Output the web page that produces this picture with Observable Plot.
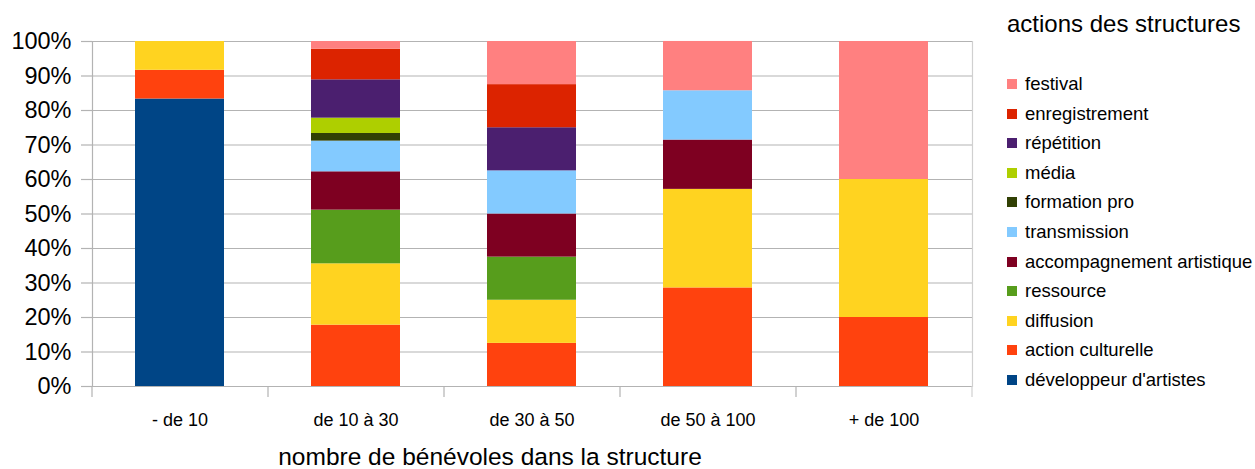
<!DOCTYPE html>
<html>
<head>
<meta charset="utf-8">
<script src="https://cdn.jsdelivr.net/npm/d3@7"></script>
<script src="https://cdn.jsdelivr.net/npm/@observablehq/plot@0.6"></script>
<style>
  html, body { margin: 0; padding: 0; background: #fff; }
  #wrap { position: relative; width: 1255px; height: 469px; font-family: "Liberation Sans", Arial, sans-serif; color: #000; }
  #wrap svg { position: absolute; left: 0; top: 0; }
  #legend { position: absolute; left: 1007px; top: 0; }
  #legend .title { position: absolute; left: 0; top: 10px; font-size: 24px; white-space: nowrap; }
  #legend .item { position: absolute; left: 0; height: 20px; white-space: nowrap; font-size: 18.5px; line-height: 20px; }
  #legend .sw { position: absolute; left: 0; top: 5px; width: 10px; height: 10px; }
  #legend .lb { position: absolute; left: 18px; top: 0; }
  #xtitle { position: absolute; top: 443px; left: 0; width: 980px; text-align: center; font-size: 24.5px; white-space: nowrap; }
</style>
</head>
<body>
<div id="wrap"></div>
<script>
// categories (x axis)
const categories = ["- de 10", "de 10 à 30", "de 30 à 50", "de 50 à 100", "+ de 100"];
// series, bottom of the stack first
const actions = ["développeur d'artistes", "action culturelle", "diffusion", "ressource",
  "accompagnement artistique", "transmission", "formation pro", "média", "répétition",
  "enregistrement", "festival"];
const colors = ["#004586", "#ff420e", "#ffd320", "#579d1c", "#7e0021", "#83caff",
  "#314004", "#aecf00", "#4b1f6f", "#dc2300", "#ff8080"];
// values in % for each category
const developpeur    = [83.33, 0, 0, 0, 0];
const actionCult     = [8.33, 17.78, 12.5, 28.57, 20];
const diffusion      = [8.33, 17.78, 12.5, 28.57, 40];
const ressource      = [0, 15.56, 12.5, 0, 0];
const accompagnement = [0, 11.11, 12.5, 14.29, 0];
const transmission   = [0, 8.89, 12.5, 14.29, 0];
const formationPro   = [0, 2.22, 0, 0, 0];
const media          = [0, 4.44, 0, 0, 0];
const repetition     = [0, 11.11, 12.5, 0, 0];
const enregistrement = [0, 8.89, 12.5, 0, 0];
const festival       = [0, 2.22, 12.5, 14.29, 40];
const yTicks = [0, 10, 20, 30, 40, 50, 60, 70, 80, 90, 100];
const legendTitle = "actions des structures";
const xTitle = "nombre de bénévoles dans la structure";

const series = [developpeur, actionCult, diffusion, ressource, accompagnement, transmission,
  formationPro, media, repetition, enregistrement, festival];
const table = [];
actions.forEach((a, i) => series[i].forEach((v, j) => table.push({cat: categories[j], action: a, value: v})));

const W = 1255, H = 469, ML = 92, MR = 283, MT = 41, MB = 83;
const step = (W - ML - MR) / categories.length;
const grid = "#b3b3b3";

const chart = Plot.plot({
  width: W, height: H,
  marginLeft: ML, marginRight: MR, marginTop: MT, marginBottom: MB,
  style: {fontFamily: "'Liberation Sans', Arial, sans-serif", background: "transparent", overflow: "visible", color: "#000"},
  x: {domain: categories, paddingInner: 0.494, paddingOuter: 0.247, label: null, axis: null},
  y: {domain: [0, 100], label: null, axis: null},
  color: {domain: actions, range: colors},
  marks: [
    Plot.gridY(yTicks, {stroke: grid, strokeOpacity: 1, strokeWidth: 1.2}),
    Plot.frame({anchor: "left", stroke: grid, strokeWidth: 1.2}),
    Plot.frame({anchor: "right", stroke: "#d0d0d0", strokeWidth: 1.2}),
    Plot.ruleX(categories, {x: d => d, dx: -step / 2, y1: 0, y2: -3.2, stroke: grid, strokeWidth: 1.2, clip: false}),
    Plot.ruleX(categories.slice(-1), {x: d => d, dx: step / 2, y1: 0, y2: -3.2, stroke: "#d0d0d0", strokeWidth: 1.2, clip: false}),
    Plot.barY(table, {x: "cat", y: "value", fill: "action"}),
    Plot.axisY(yTicks, {tickSize: 11, tickPadding: 10, fontSize: 23.5, stroke: grid, strokeWidth: 1.2, fill: "#000", tickFormat: d => d + "%", label: null}),
    Plot.axisX({tickSize: 0, tickPadding: 27, fontSize: 18, fill: "#000", label: null})
  ]
});

const wrap = document.getElementById("wrap");
wrap.appendChild(chart);

const xt = document.createElement("div");
xt.id = "xtitle";
xt.textContent = xTitle;
wrap.appendChild(xt);

const legend = document.createElement("div");
legend.id = "legend";
const lt = document.createElement("div");
lt.className = "title";
lt.textContent = legendTitle;
legend.appendChild(lt);
const order = actions.slice().reverse();
order.forEach((a, k) => {
  const it = document.createElement("div");
  it.className = "item";
  it.style.top = (74 + k * 29.6) + "px";
  const sw = document.createElement("div");
  sw.className = "sw";
  sw.style.background = colors[actions.indexOf(a)];
  const lb = document.createElement("div");
  lb.className = "lb";
  lb.textContent = a;
  it.appendChild(sw);
  it.appendChild(lb);
  legend.appendChild(it);
});
wrap.appendChild(legend);
</script>
</body>
</html>
